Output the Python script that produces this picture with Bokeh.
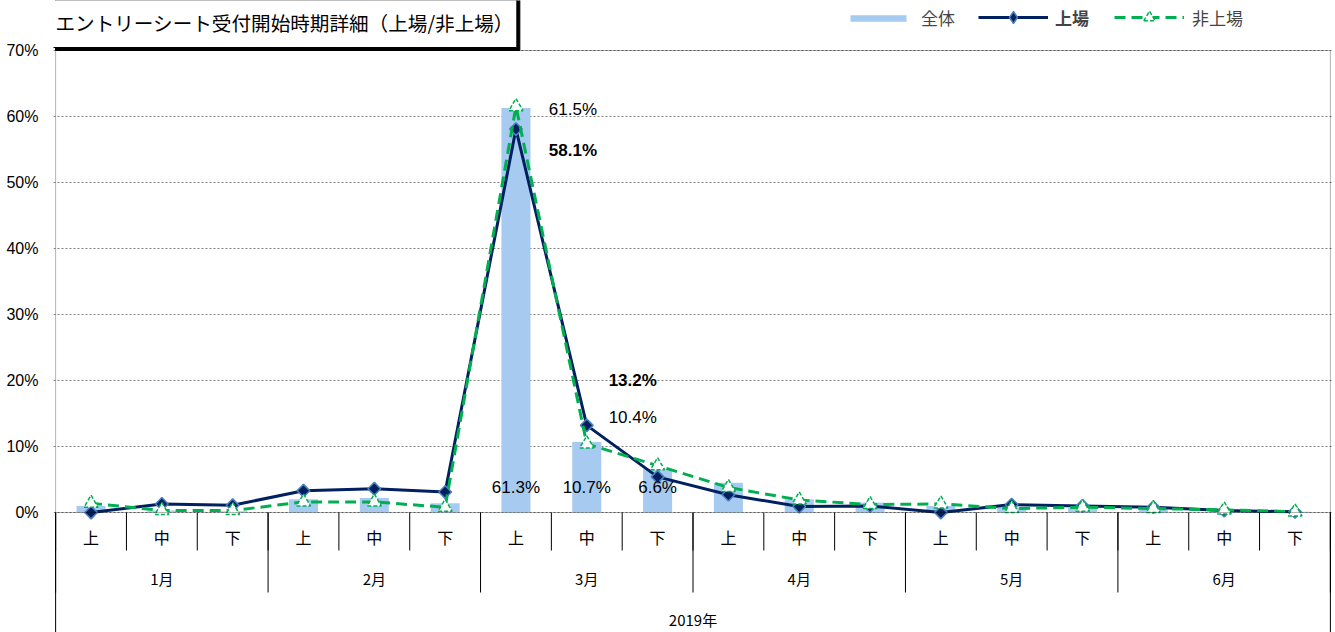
import numpy as np
from bokeh.plotting import figure
from bokeh.models import (Range1d, FixedTicker, PrintfTickFormatter,
                          Label, Legend, LegendItem, BoxAnnotation)
from bokeh.core.properties import value
from bokeh.embed import file_html
from bokeh.resources import INLINE

# ---------------- data ----------------
title_text = "エントリーシート受付開始時期詳細（上場/非上場）"
months = ["1月", "2月", "3月", "4月", "5月", "6月"]
periods = ["上", "中", "下"]
year_label = "2019年"
series_names = ["全体", "上場", "非上場"]

overall = [1.0, 0.3, 0.2, 2.0, 2.2, 1.4, 61.3, 10.7, 6.6, 4.5, 2.0, 1.5, 1.0, 0.8, 0.7, 0.5, 0.2, 0.1]
listed = [0.0, 1.3, 1.1, 3.3, 3.6, 3.1, 58.1, 13.2, 5.4, 2.7, 0.9, 1.0, 0.0, 1.2, 1.0, 0.8, 0.3, 0.1]
unlisted = [1.4, 0.3, 0.3, 1.6, 1.6, 0.8, 61.5, 10.4, 7.1, 3.8, 1.9, 1.2, 1.3, 0.6, 0.8, 0.6, 0.4, 0.1]
y_ticks = [0, 10, 20, 30, 40, 50, 60, 70]

labelled_bar_idx = [6, 7, 8]
labelled_line_idx = [6, 7]

# ---------------- style ----------------
JP = "Noto Sans CJK JP"
LAT = "Liberation Sans"
BAR = "#A6CAF0"
NAVY = "#002060"
EDGE = "#4F81BD"
GREEN = "#00B050"

W, H = 1335, 632
PX = 6.6            # pixels per percentage point
TOP_PX = 50         # space above the 70% line
BOT_PX = 120        # category-axis band below 0%

n = len(overall)
npd = len(periods)
xs = [i + 0.5 for i in range(n)]
ymax = y_ticks[-1]

p = figure(width=W, height=H, x_range=Range1d(-0.03, n + 0.03),
           y_range=Range1d(-BOT_PX / PX, ymax + TOP_PX / PX), x_axis_type=None,
           output_backend="svg", toolbar_location=None,
           min_border_left=53, min_border_right=3, min_border_top=0,
           min_border_bottom=0)
p.outline_line_color = None
p.background_fill_color = "white"
p.border_fill_color = "white"

# y axis
ya = p.yaxis[0]
ya.ticker = FixedTicker(ticks=y_ticks, minor_ticks=[])
ya.formatter = PrintfTickFormatter(format="%d%%")
ya.axis_line_color = None
ya.major_tick_out = 0
ya.major_tick_in = 0
ya.minor_tick_out = 0
ya.minor_tick_in = 0
ya.major_label_text_font = LAT
ya.major_label_text_font_size = "16px"
ya.major_label_text_color = "black"
ya.major_label_standoff = 15

p.xgrid.visible = False
p.ygrid.grid_line_color = "#808080"
p.ygrid.grid_line_dash = "2 2"
p.ygrid.grid_line_width = 1

# bars
bars = p.vbar(x=xs, top=overall, width=0.41, fill_color=BAR, line_color=None)

# plot border
p.add_layout(BoxAnnotation(left=0, right=n, bottom=0, top=ymax,
                           fill_color=None, line_color="black", line_width=1))

# category band: dividers + labels
bounds = list(range(n + 1))
mbounds = [npd * k for k in range(len(months) + 1)]
mcent = [npd * k + npd / 2 for k in range(len(months))]
p.ray(x=bounds, y=[0] * len(bounds), length=38, length_units="screen",
      angle=-np.pi / 2, line_color="black", line_width=1)
p.ray(x=mbounds, y=[0] * len(mbounds), length=80, length_units="screen",
      angle=-np.pi / 2, line_color="black", line_width=1)
p.ray(x=[0, n], y=[0, 0], length=BOT_PX + 5, length_units="screen",
      angle=-np.pi / 2, line_color="black", line_width=1)
p.text(x=xs, y=[0] * n, text=[periods[i % npd] for i in range(n)], y_offset=24,
       text_font=value(JP), text_font_size="16px", text_align="center",
       text_baseline="middle", text_color="black")
p.text(x=mcent, y=[0] * len(mcent), text=months, y_offset=66,
       text_font=value(JP), text_font_size="15px", text_align="center",
       text_baseline="middle", text_color="black")
p.text(x=[n / 2], y=[0], text=[year_label], y_offset=107,
       text_font=value(JP), text_font_size="15px", text_align="center",
       text_baseline="middle", text_color="black")

# lines
l1 = p.line(xs, listed, line_color=NAVY, line_width=3)
# diamond glyph (used for the legend key; hidden beneath the rotated squares)
m1_key = p.scatter(xs, listed, marker="diamond", size=12,
                   fill_color=NAVY, line_color=EDGE, line_width=1.5)
m1 = p.scatter(xs, listed, marker="square", angle=np.pi / 4, size=9,
               fill_color=NAVY, line_color=EDGE, line_width=1.5)
l2 = p.line(xs, unlisted, line_color=GREEN, line_width=3, line_dash="11 6")
m2 = p.scatter(xs, unlisted, marker="triangle", size=14, fill_color="white",
               line_color=GREEN, line_width=1.5, line_dash="4 2")

# data labels
def fmt(v):
    return f"{v:.1f}%"

p.text(x=[xs[i] for i in labelled_bar_idx], y=[0] * len(labelled_bar_idx),
       text=[fmt(overall[i]) for i in labelled_bar_idx], y_offset=-25,
       text_font=value(LAT), text_font_size="17px", text_align="center",
       text_baseline="middle", text_color="black")

lab_off_listed = [(57, 21), (46, -45)]
lab_off_unlisted = [(57, 3), (46, -26)]
for k, i in enumerate(labelled_line_idx):
    p.text(x=[xs[i]], y=[listed[i]], text=[fmt(listed[i])],
           x_offset=lab_off_listed[k][0], y_offset=lab_off_listed[k][1],
           text_font=value(LAT), text_font_size="17px", text_font_style="bold",
           text_align="center", text_baseline="middle", text_color="black")
    p.text(x=[xs[i]], y=[unlisted[i]], text=[fmt(unlisted[i])],
           x_offset=lab_off_unlisted[k][0], y_offset=lab_off_unlisted[k][1],
           text_font=value(LAT), text_font_size="17px",
           text_align="center", text_baseline="middle", text_color="black")

# legends (one per series so that 上場 can be bold)
def mk_legend(label, rends, x, y, gh, bold=False, standoff=8):
    lg = Legend(items=[LegendItem(label=label, renderers=rends)], location=(x, y),
                orientation="horizontal", border_line_color=None,
                background_fill_alpha=0, padding=0, margin=0, spacing=0,
                glyph_width=70, glyph_height=gh, label_standoff=standoff,
                label_text_font=JP, label_text_font_size="17px",
                label_text_font_style="bold" if bold else "normal",
                label_height=20)
    p.add_layout(lg)

mk_legend(series_names[0], [bars], 790, H - 30, 8)
mk_legend(series_names[1], [l1, m1_key], 925, H - 32, 30, bold=True, standoff=7)
mk_legend(series_names[2], [l2, m2], 1061, H - 31, 28)

# title box with shadow
common = dict(x_units="screen", y_units="screen", text=title_text,
              text_font=JP, text_font_size="19.6px", text_baseline="middle",
              padding=(3, 11))
p.add_layout(Label(x=2, y=H - 24.5, text_color="black", background_fill_color="black",
                   border_line_color="black", **common))
p.add_layout(Label(x=-1, y=H - 21.5, text_color="black", background_fill_color="white",
                   border_line_color="black", border_line_width=1, **common))

open("out.html", "w").write(file_html(p, INLINE))
